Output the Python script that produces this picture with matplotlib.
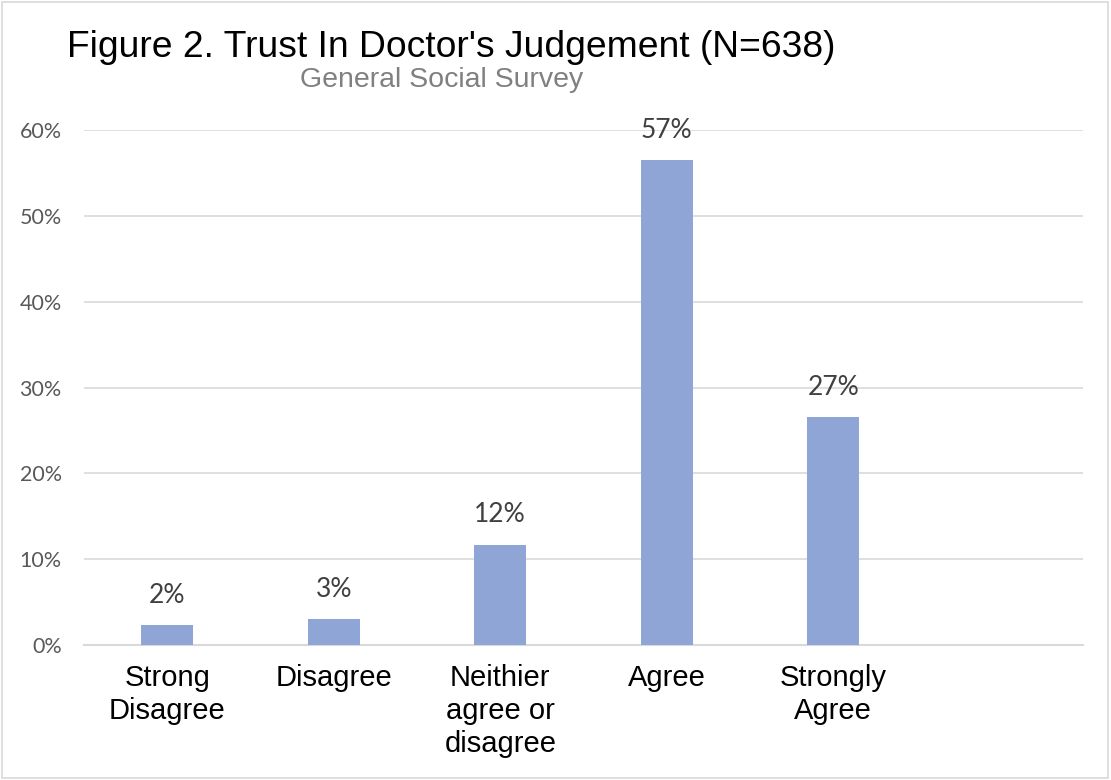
import numpy as np
import matplotlib.pyplot as plt
from matplotlib.ticker import FuncFormatter

categories = ["Strong\nDisagree", "Disagree", "Neithier\nagree or\ndisagree", "Agree", "Strongly\nAgree", ""]
values = [2.3, 3.0, 11.7, 56.5, 26.6]
labels = ["2%", "3%", "12%", "57%", "27%"]

bar_color = "#8FA5D5"
grid_color = "#D9D9D9"

fig = plt.figure(figsize=(11.11, 7.8), dpi=100)
ax = fig.add_axes([84 / 1111, 1 - 645 / 780, (1083 - 84) / 1111, (645 - 130) / 780])

x = np.arange(len(categories))
ax.bar(x[:len(values)], values, width=0.31, color=bar_color, zorder=3)
for xi, v, lab in zip(x, values, labels):
    ax.text(xi, v + 2.0, lab, ha="center", va="bottom", fontsize=19,
            family="Lato", color="#404040")

ax.set_xlim(-0.5, len(categories) - 0.5)
ax.set_ylim(0, 60)
ax.set_yticks(range(0, 61, 10))
ax.yaxis.set_major_formatter(FuncFormatter(lambda v, p: f"{v:.0f}%"))
ax.set_xticks(x)
ax.set_xticklabels(categories, fontsize=21, family="Liberation Sans", color="black",
                   va="top", linespacing=1.22)
ax.tick_params(axis="x", length=0, pad=14)
ax.tick_params(axis="y", length=0, pad=16, labelsize=15.5, labelcolor="#595959")
for lbl in ax.get_yticklabels():
    lbl.set_family("Lato")
ax.grid(axis="y", color=grid_color, linewidth=1.2, zorder=0)
for s in ["top", "right", "left"]:
    ax.spines[s].set_visible(False)
ax.spines["bottom"].set_color(grid_color)
ax.spines["bottom"].set_linewidth(1.5)

fig.text(67 / 1111, 1 - 57 / 780, "Figure 2. Trust In Doctor's Judgement (N=638)",
         fontsize=26.8, family="Liberation Sans", color="black", va="baseline")
fig.text(300 / 1111, 1 - 87 / 780, "General Social Survey",
         fontsize=20.5, family="Liberation Sans", color="#808080", va="baseline")

border = plt.Rectangle((0.002, 0.003), 0.995, 0.994, transform=fig.transFigure,
                       fill=False, edgecolor="#D9D9D9", linewidth=1.2)
fig.patches.append(border)

fig.savefig("out.png", dpi=100)
